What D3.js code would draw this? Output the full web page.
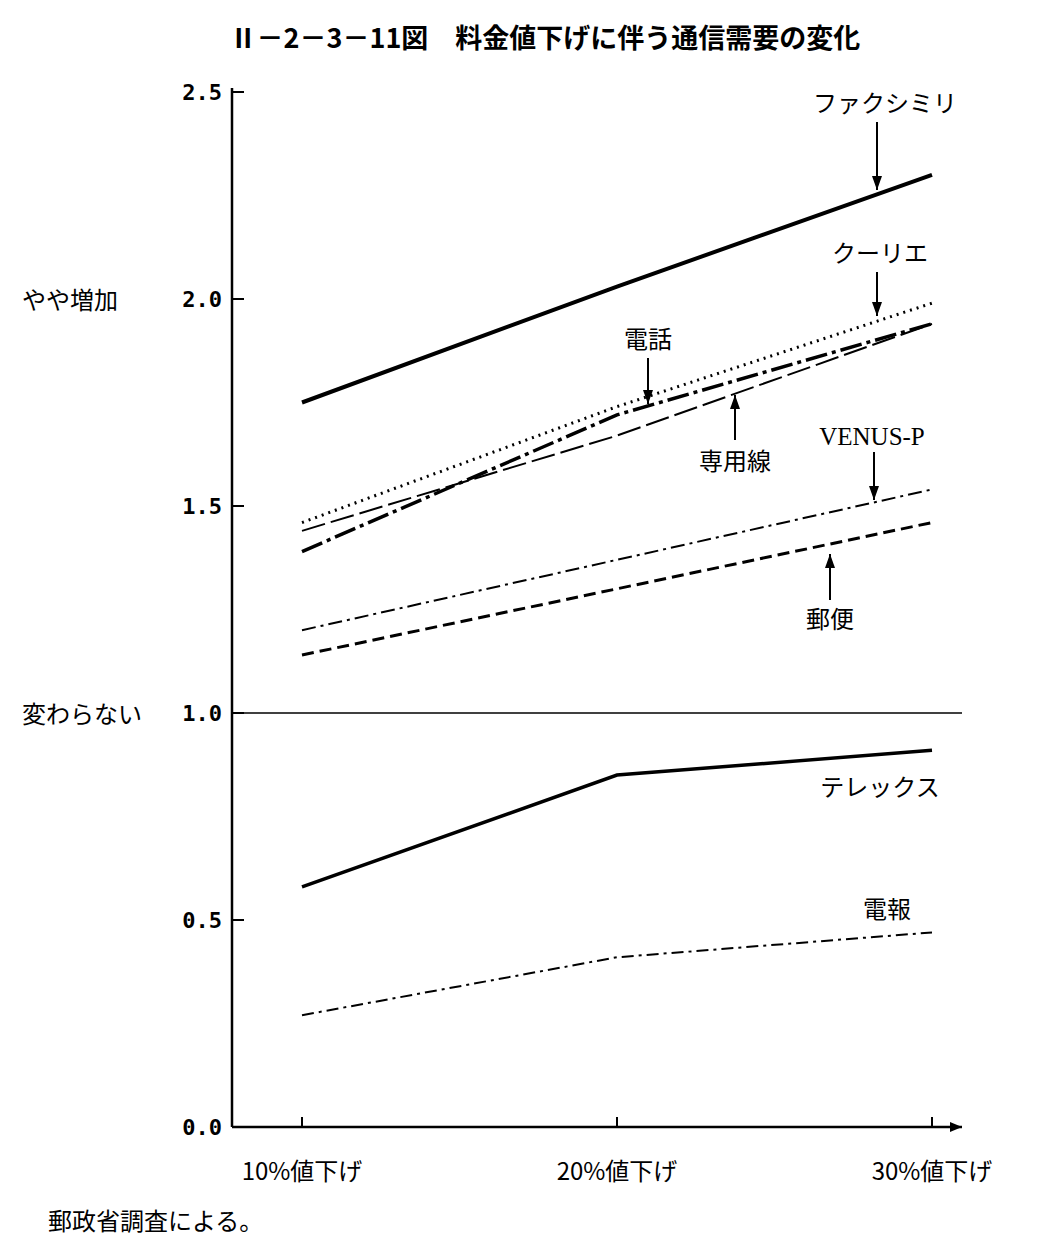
<!DOCTYPE html><html><head><meta charset="utf-8">
<script src="https://cdn.jsdelivr.net/npm/d3@7"></script>
<style>body{margin:0;background:#fff}</style></head><body>
<svg id="c" width="1045" height="1253"></svg>
<script>
const categories=["10%値下げ","20%値下げ","30%値下げ"];
const yTicks=[0,0.5,1.0,1.5,2.0,2.5];
const faxValues=[1.75,2.03,2.30];
const courierValues=[1.46,1.74,1.99];
const phoneValues=[1.39,1.72,1.94];
const leasedValues=[1.44,1.67,1.94];
const venusValues=[1.20,1.37,1.54];
const mailValues=[1.14,1.30,1.46];
const telexValues=[0.58,0.85,0.91];
const telegramValues=[0.27,0.41,0.47];
const series=[
 {name:"ファクシミリ",v:faxValues,w:4,d:null},
 {name:"クーリエ",v:courierValues,w:3,d:"2,5"},
 {name:"電話",v:phoneValues,w:3.5,d:"22,5,4,5"},
 {name:"専用線",v:leasedValues,w:2,d:"24,6"},
 {name:"VENUS-P",v:venusValues,w:2,d:"14,5,3,5"},
 {name:"郵便",v:mailValues,w:3,d:"12,6"},
 {name:"テレックス",v:telexValues,w:3.5,d:null},
 {name:"電報",v:telegramValues,w:2,d:"12,5,3,5"}
];
const svg=d3.select("#c");
const font="'Noto Sans CJK JP','Noto Sans',sans-serif";
const y=d3.scaleLinear().domain([0,2.5]).range([1127,92]);
const x=d3.scalePoint().domain(categories).range([302,932]);
svg.append("text").attr("x",545).attr("y",48).attr("text-anchor","middle")
 .attr("font-family",font).attr("font-weight","bold").attr("font-size",27)
 .text("Ⅱ－2－3－11図　料金値下げに伴う通信需要の変化");
// axes
svg.append("line").attr("x1",232).attr("x2",232).attr("y1",88).attr("y2",1127).attr("stroke","#000").attr("stroke-width",2.5);
svg.append("line").attr("x1",232).attr("x2",962).attr("y1",1127).attr("y2",1127).attr("stroke","#000").attr("stroke-width",2.5);
svg.append("path").attr("d","M962,1127 l-12,-5 l0,10 z").attr("fill","#000");
const yAxis=d3.axisLeft(y).tickValues(yTicks).tickFormat(d3.format(".1f")).tickSize(0).tickPadding(10);
const ga=svg.append("g").attr("transform","translate(232,0)").call(yAxis);
ga.select(".domain").remove();
ga.selectAll("text").attr("font-family","'DejaVu Sans Mono',monospace").attr("font-size",22).attr("font-weight","bold");
yTicks.forEach(t=>svg.append("line").attr("x1",232).attr("x2",244).attr("y1",y(t)).attr("y2",y(t)).attr("stroke","#000").attr("stroke-width",2));
categories.forEach(c=>{
 svg.append("line").attr("x1",x(c)).attr("x2",x(c)).attr("y1",1117).attr("y2",1127).attr("stroke","#000").attr("stroke-width",2);
 svg.append("text").attr("x",x(c)).attr("y",1180).attr("text-anchor","middle").attr("font-family",font).attr("font-size",24).text(c);
});
svg.append("line").attr("x1",232).attr("x2",962).attr("y1",y(1)).attr("y2",y(1)).attr("stroke","#000").attr("stroke-width",1.5);
svg.append("text").attr("x",22).attr("y",y(2)+10).attr("font-family",font).attr("font-size",24).text("やや増加");
svg.append("text").attr("x",22).attr("y",y(1)+10).attr("font-family",font).attr("font-size",24).text("変わらない");
svg.append("text").attr("x",48).attr("y",1230).attr("font-family",font).attr("font-size",24).text("郵政省調査による。");
const line=d3.line().x((d,i)=>x(categories[i])).y(d=>y(d));
series.forEach(s=>svg.append("path").attr("d",line(s.v)).attr("fill","none").attr("stroke","#000")
 .attr("stroke-width",s.w).attr("stroke-dasharray",s.d));
// labels + arrows
const labels=[
 {t:"ファクシミリ",x:885,y:112,ax:877,ay1:122,ay2:190},
 {t:"クーリエ",x:880,y:262,ax:877,ay1:272,ay2:316},
 {t:"電話",x:648,y:348,ax:648,ay1:358,ay2:404},
 {t:"専用線",x:735,y:470,ax:735,ay1:440,ay2:395},
 {t:"VENUS-P",x:872,y:445,ax:874,ay1:452,ay2:500,serif:true},
 {t:"郵便",x:830,y:628,ax:830,ay1:600,ay2:554},
 {t:"テレックス",x:880,y:796},
 {t:"電報",x:887,y:918}
];
labels.forEach(l=>{
 svg.append("text").attr("x",l.x).attr("y",l.y).attr("text-anchor","middle")
  .attr("font-family",l.serif?"'Liberation Serif',serif":font).attr("font-size",l.serif?25:24).text(l.t);
 if(l.ax){
  svg.append("line").attr("x1",l.ax).attr("x2",l.ax).attr("y1",l.ay1).attr("y2",l.ay2).attr("stroke","#000").attr("stroke-width",2);
  const dir=l.ay2>l.ay1?1:-1;
  svg.append("path").attr("d",`M${l.ax},${l.ay2} l-5,${-14*dir} l10,0 z`).attr("fill","#000");
 }
});
</script></body></html>
